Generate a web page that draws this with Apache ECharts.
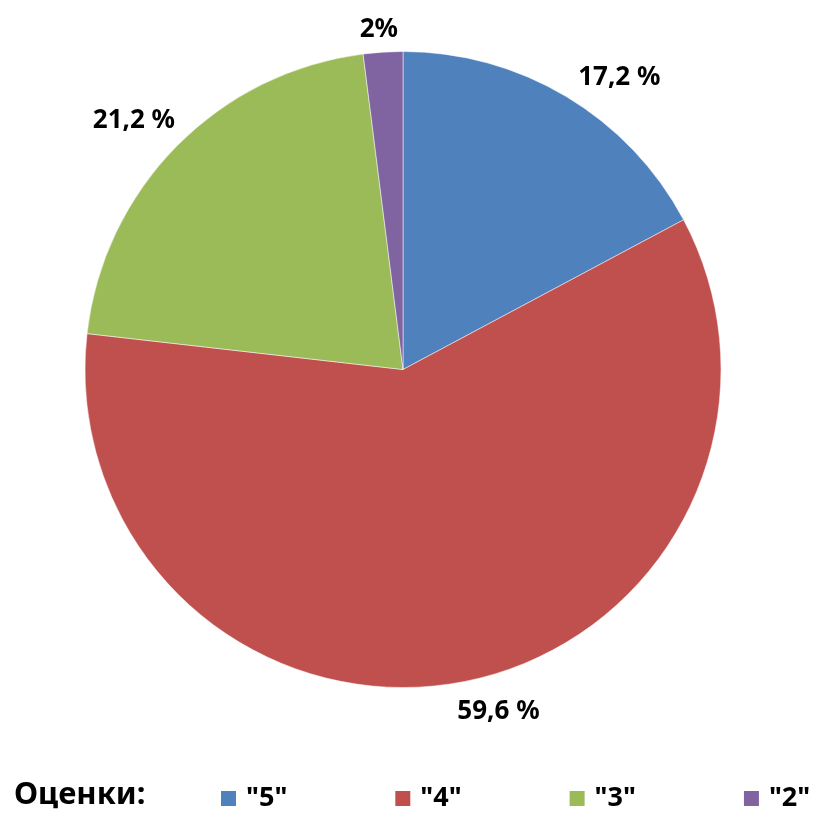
<!DOCTYPE html>
<html>
<head>
<meta charset="utf-8">
<script src="https://cdn.jsdelivr.net/npm/echarts@6/dist/echarts.min.js"></script>
<style>html,body{margin:0;padding:0;background:#fff;}#c{width:817px;height:813px;}</style>
</head>
<body>
<div id="c"></div>
<script>
const categories = ['"5"', '"4"', '"3"', '"2"'];
const values = [17.2, 59.6, 21.2, 2];
const labelTexts = ['17,2 %', '59,6 %', '21,2 %', '2%'];
const colors = ['#4F81BD', '#C0504D', '#9BBB59', '#8064A2'];
const legendTitle = 'Оценки:';
// label offsets (layout only)
const lineLen = [22.5, 30.7, 35.7, 22.2];
const lineLen2 = [0, -11, -23.7, -16.4];

const chart = echarts.init(document.getElementById('c'), null, {renderer: 'canvas'});
const font = '"Noto Sans", "DejaVu Sans", sans-serif';
chart.setOption({
  animation: false,
  color: colors,
  title: {
    text: legendTitle,
    left: 9,
    top: 775,
    textStyle: {fontFamily: font, fontWeight: 'bold', fontSize: 31, color: '#000'}
  },
  legend: {
    data: categories,
    left: 214,
    top: 780,
    width: 660,
    orient: 'horizontal',
    itemWidth: 17,
    itemHeight: 17,
    itemGap: 106,
    icon: 'rect',
    textStyle: {fontFamily: font, fontWeight: 'bold', fontSize: 27, color: '#000', width: 48, overflow: 'none', padding: [0, 0, 0, 4]}
  },
  series: [{
    type: 'pie',
    center: [403, 369.5],
    radius: 318,
    startAngle: 90,
    clockwise: true,
    avoidLabelOverlap: false,
    itemStyle: {borderColor: '#fff', borderWidth: 0.5},
    label: {
      show: true,
      position: 'outside',
      distanceToLabelLine: 0,
      fontFamily: font,
      fontWeight: 'bold',
      fontSize: 26,
      color: '#000',
      formatter: p => labelTexts[p.dataIndex]
    },
    labelLine: {show: false},
    emphasis: {disabled: true},
    data: categories.map((c, i) => ({
      name: c,
      value: values[i],
      labelLine: {show: false, length: lineLen[i], length2: lineLen2[i]}
    }))
  }]
});
</script>
</body>
</html>
